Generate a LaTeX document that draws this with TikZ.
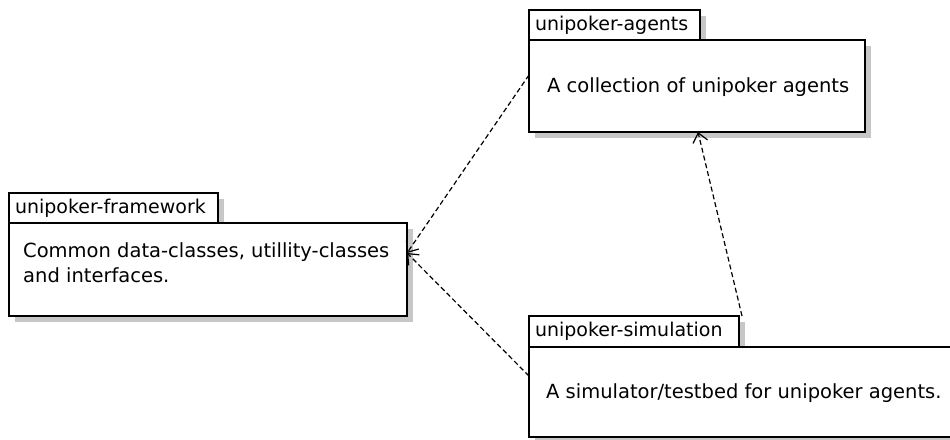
\documentclass[tikz,border=0pt]{standalone}
\usepackage{fontspec}
\setmainfont{DejaVu Sans}
\usetikzlibrary{arrows.meta,shadows}

\begin{document}
\begin{tikzpicture}[x=1pt,y=-1pt,
  pkgshape/.style={draw=black, line width=1.2pt, fill=white, rectangle,
    inner sep=0pt, outer sep=0pt, anchor=north west,
    drop shadow={shadow xshift=6pt, shadow yshift=-6pt, fill=black!22, opacity=1}},
  tabbox/.style={pkgshape, minimum height=30pt, align=left, inner xsep=6pt,
    font=\fontsize{19}{23}\selectfont},
  bodybox/.style={pkgshape},
  bodytext/.style={anchor=west, inner sep=0pt, align=left,
    font=\fontsize{19.5}{25}\selectfont},
  dep/.style={line width=1.2pt, dash pattern=on 5pt off 3pt,
    -{Straight Barb[length=9pt,width=15pt,line width=1.2pt]}}
]
\useasboundingbox (0,0) rectangle (950,439);

% unipoker-agents
\node[tabbox, text width=159pt] (agtab) at (529,10) {unipoker-agents};
\node[bodybox, minimum width=336pt, minimum height=92pt] (agbody) at (529,40) {};
\node[bodytext] (agtext) at (547,87) {A collection of unipoker agents};

% unipoker-framework
\node[tabbox, text width=197pt] (fwtab) at (9,193) {unipoker-framework};
\node[bodybox, minimum width=398pt, minimum height=93pt] (fwbody) at (9,223) {};
\node[bodytext] (fwtext) at (23,263) {Common data-classes, utillity-classes\\and interfaces.};

% unipoker-simulation
\node[tabbox, text width=198pt, minimum height=31pt] (simtab) at (529,316) {unipoker-simulation};
\node[bodybox, minimum width=440pt, minimum height=90pt] (simbody) at (529,347) {};
\node[bodytext] (simtext) at (546,393) {A simulator/testbed for unipoker agents.};

% dependencies
\draw[dep] ([yshift=11pt]agbody.west) -- ([yshift=16.5pt]fwbody.east);
\draw[dep] ([yshift=16pt]simbody.west) -- ([yshift=16.5pt]fwbody.east);
\draw[dep] ([xshift=3pt]simtab.north east) -- ([xshift=1pt]agbody.south);
\end{tikzpicture}
\end{document}
